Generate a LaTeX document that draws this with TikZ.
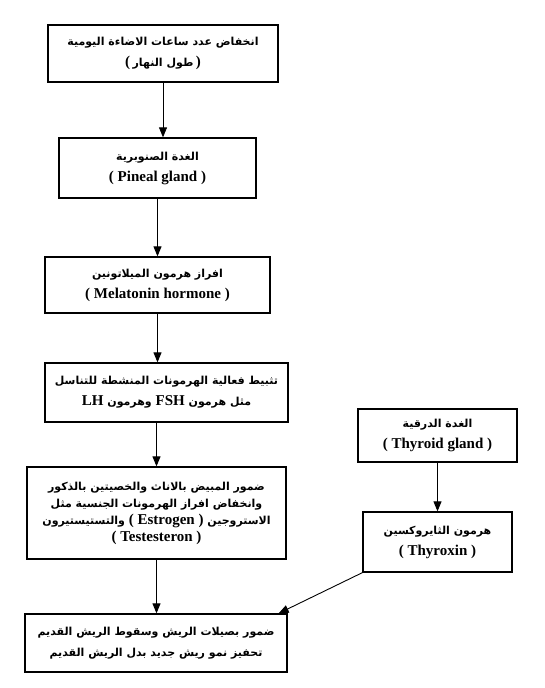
\documentclass[tikz,border=0pt]{standalone}
\usepackage{fontspec}
\setmainfont{Liberation Serif}
\newfontfamily\arabicfont[Script=Arabic]{DejaVu Sans}
\TeXXeTstate=1
\usetikzlibrary{arrows.meta,calc}
\newcommand{\ar}[1]{{\arabicfont\bfseries\fontsize{11}{21}\selectfont\beginR #1\endR}}
\newcommand{\lt}[1]{\beginL{\rmfamily\fontsize{15}{21}\selectfont\bfseries #1}\endL{}}
\begin{document}
\begin{tikzpicture}[x=1pt,y=-1pt,
  box/.style={draw,line width=1.3pt,rectangle,align=center,inner sep=2pt,
    font=\fontsize{15}{21}\selectfont\bfseries},
  arr/.style={line width=0.9pt,-{Triangle[length=10pt,width=8pt]}}]
\useasboundingbox (0,0) rectangle (544,688);
\node[box,minimum width=230pt,minimum height=57pt] (b1) at (163,53.5)
  {\ar{انخفاض عدد ساعات الاضاءة اليومية}\\ (\,\ar{طول النهار}\,)};
\node[box,minimum width=197pt,minimum height=60pt] (b2) at (157.5,168)
  {\ar{الغدة الصنوبرية}\\ ( Pineal gland )};
\node[box,minimum width=225pt,minimum height=56pt] (b3) at (157.5,285)
  {\ar{افراز هرمون الميلاتونين}\\ ( Melatonin hormone )};
\node[box,minimum width=243pt,minimum height=59pt] (b4) at (166.5,392.5)
  {\ar{تثبيط فعالية الهرمونات المنشطة للتناسل}\\
   \ar{مثل هرمون \lt{FSH} وهرمون \lt{LH}}};
\node[box,minimum width=259pt,minimum height=92pt,
  font=\fontsize{15}{18}\selectfont\bfseries] (b5) at (156.5,513)
  {\ar{ضمور المبيض بالاناث والخصيتين بالذكور}\\[-1pt]
   \ar{وانخفاض افراز الهرمونات الجنسية مثل}\\[-1pt]
   \ar{الاستروجين \lt{( Estrogen )} والتستيستيرون}\\[-1pt]
   ( Testesteron )};
\node[box,minimum width=159pt,minimum height=53pt] (b6) at (437.5,435.5)
  {\ar{الغدة الدرقية}\\ ( Thyroid gland )};
\node[box,minimum width=149pt,minimum height=60pt] (b7) at (437.5,542)
  {\ar{هرمون الثايروكسين}\\ ( Thyroxin )};
\node[box,minimum width=262pt,minimum height=58pt] (b8) at (156,643)
  {\ar{ضمور بصيلات الريش وسقوط الريش القديم}\\
   \ar{تحفيز نمو ريش جديد بدل الريش القديم}};
\coordinate (t8) at ($(b8.north east)+(-9,0)$);
\draw[arr] (b1.south) -- (b1.south |- b2.north);
\draw[arr] (b2.south) -- (b2.south |- b3.north);
\draw[arr] (b3.south) -- (b3.south |- b4.north);
\draw[arr] (b5.north |- b4.south) -- (b5.north);
\draw[arr] (b5.south) -- (b5.south |- b8.north);
\draw[arr] (b6.south) -- (b7.north);
\draw[arr] (b7.south west) -- (t8);
\end{tikzpicture}
\end{document}
